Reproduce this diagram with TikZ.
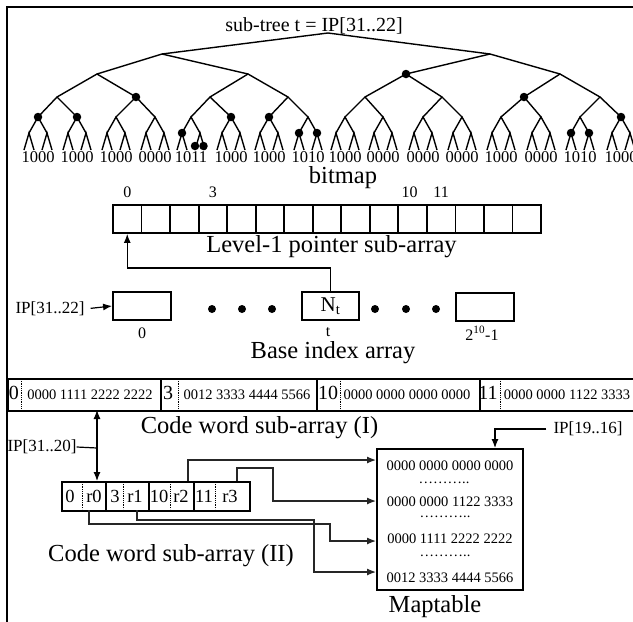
\documentclass[tikz,border=0pt]{standalone}
\usepackage{fontspec}
\setmainfont{Liberation Serif}
\usetikzlibrary{arrows.meta,calc}
\begin{document}
\begin{tikzpicture}[x=1pt,y=-1pt,
  treeline/.style={line width=1.4pt},
  knot/.style={circle,fill,inner sep=0pt,minimum size=8.5pt},
  bigdot/.style={circle,fill,inner sep=0pt,minimum size=8pt},
  frameline/.style={line width=1.8pt},
  boxline/.style={line width=1.8pt},
  title/.style={font=\fontsize{24.5}{28}\selectfont,anchor=base,inner sep=0pt},
  bits/.style={font=\fontsize{16.5}{18}\selectfont,anchor=base,inner sep=0pt},
  idx/.style={font=\fontsize{16}{18}\selectfont,anchor=base,inner sep=0pt},
  iplabel/.style={font=\fontsize{17}{19}\selectfont,inner sep=0pt},
  cell/.style={draw,line width=1.8pt,minimum width=28.53pt,minimum height=28pt,inner sep=0pt},
  slot/.style={draw,line width=1.8pt,minimum width=58pt,minimum height=28pt,inner sep=0pt},
  wordcell/.style={draw,line width=1.8pt,minimum height=32pt,anchor=north west,inner sep=0pt},
  codecell/.style={draw,line width=1.8pt,minimum height=29pt,anchor=north west,inner sep=0pt},
  arr/.style={line width=1.2pt,-{Latex[length=9pt,width=7pt]}},
  link/.style={line width=1.2pt,black!85,-{Latex[length=9pt,width=7pt]}},
  sep/.style={densely dotted,line width=0.8pt},
  bigdigit/.style={font=\fontsize{20}{22}\selectfont,anchor=base,inner sep=0pt},
  word/.style={font=\fontsize{14.5}{16}\selectfont,anchor=base,inner sep=0pt},
  codetext/.style={font=\fontsize{18.5}{20}\selectfont,anchor=base,inner sep=0pt},
  ]
\useasboundingbox (0,0) rectangle (633,622);

% outer frame (runs off the right and bottom edges)
\draw[frameline] (7,645) -- (7,7) -- (645,7);

% ---------- binary sub-tree ----------
\node[font=\fontsize{20}{22}\selectfont,anchor=base,inner sep=0pt] (treetitle) at (314,31) {sub-tree t = IP[31..22]};
\coordinate (r) at (328,33);
\coordinate (a1) at (162,54);
\coordinate (a2) at (490,54);
\foreach \x [count=\i] in {97,248,406,560} \coordinate (b\i) at (\x,74);
\foreach \x [count=\i] in {57,136,210,288,365,442,524,600} \coordinate (c\i) at (\x,97);
\draw[treeline] (a1) -- (r) -- (a2);
\draw[treeline] (b1) -- (a1) -- (b2);
\draw[treeline] (b3) -- (a2) -- (b4);
\foreach \i/\j/\k in {1/1/2,2/3/4,3/5/6,4/7/8} \draw[treeline] (c\j) -- (b\i) -- (c\k);
\foreach \x/\bt [count=\i] in {38/1000,77/1000,116/1000,155/0000,191/1011,231/1000,269/1000,308/1010,
    345/1000,383/0000,423/0000,462/0000,501/1000,541/0000,580/1010,621/1000} {
  \coordinate (d\i) at (\x,117);
  \coordinate (el\i) at (\x-9,133);
  \coordinate (er\i) at (\x+9,133);
  \coordinate (fa\i) at (\x-14,150);
  \coordinate (fb\i) at (\x-4,150);
  \coordinate (fc\i) at (\x+4,150);
  \coordinate (fd\i) at (\x+14,150);
  \draw[treeline] (el\i) -- (d\i) -- (er\i);
  \draw[treeline] (fa\i) -- (el\i) -- (fb\i);
  \draw[treeline] (fc\i) -- (er\i) -- (fd\i);
  \node[bits] (bits\i) at (\x,162) {\bt};
}
\foreach \i/\j/\k in {1/1/2,2/3/4,3/5/6,4/7/8,5/9/10,6/11/12,7/13/14,8/15/16} \draw[treeline] (d\j) -- (c\i) -- (d\k);
% marked nodes
\foreach \p in {b3,c2,c7,d1,d2,d6,d7,d16,el5,el8,er8,el15,er15} \node[knot] at (\p) {};
\node[knot] (leafmarkA) at (195,146) {};
\node[knot] (leafmarkB) at (203.5,146) {};

\node[title] (bitmaplbl) at (343,183) {bitmap};

% ---------- level-1 pointer sub-array ----------
\foreach \i in {0,...,14} \node[cell] (p\i) at ({127.27+28.533*\i},219) {};
\node[idx] (pl0) at ([yshift=7pt]p0.north) {0};
\node[idx] (pl3) at ([yshift=7pt]p3.north) {3};
\node[idx] (pl10) at ([yshift=7pt,xshift=-3pt]p10.north) {10};
\node[idx] (pl11) at ([yshift=7pt]p11.north) {11};
\node[title] (ptrlbl) at (331.5,252) {Level-1 pointer sub-array};

% ---------- base index array ----------
\node[slot] (base0) at (142,306) {};
\node[slot,minimum width=57pt,font=\fontsize{21}{23}\selectfont] (baset) at (330.5,306) {N\textsubscript{t}};
\node[slot] (baselast) at (485,307) {};
\node[idx] (bl0) at (142,338) {0};
\node[idx] (blt) at (328,336) {t};
\node[idx] (bllast) at (482,340) {2\textsuperscript{10}-1};
\foreach \x [count=\i] in {212,242,272,375,406,436} \node[bigdot] (gap\i) at (\x,309) {};
\node[iplabel] (ipa) at (50,309) {IP[31..22]};
\draw[arr,shorten <=6pt] (ipa.east) -- (base0.west);
\coordinate (bend) at (330.5,268);
\draw[arr] (baset.north) -- (bend) -| (p0.south);
\node[title] (baselbl) at (333,358) {Base index array};

% ---------- code word sub-array (I) ----------
\node[wordcell,minimum width=153pt] (w0) at (7,378) {};
\node[wordcell,minimum width=156pt] (w1) at (160,378) {};
\node[wordcell,minimum width=163pt] (w2) at (316,378) {};
\node[wordcell,minimum width=175pt] (w3) at (479,378) {};
\foreach \x in {21,178,340,500} \draw[sep] (\x,379) -- (\x,409);
\node[bigdigit] (wk0) at (14,399) {0};
\node[bigdigit] (wk1) at (168,399) {3};
\node[bigdigit] (wk2) at (328,399) {10};
\node[bigdigit] (wk3) at (488,399) {11};
\node[word] (wv0) at (90,399) {0000 1111 2222 2222};
\node[word] (wv1) at (247,399) {0012 3333 4444 5566};
\node[word] (wv2) at (407,399) {0000 0000 0000 0000};
\node[word] (wv3) at (567,399) {0000 0000 1122 3333};
\node[title] (cw1lbl) at (259.5,433) {Code word sub-array (I)};

% ---------- code word sub-array (II) ----------
\node[codecell,minimum width=44pt] (v0) at (61,481) {};
\node[codecell,minimum width=43pt] (v1) at (105,481) {};
\node[codecell,minimum width=45pt] (v2) at (148,481) {};
\node[codecell,minimum width=56pt] (v3) at (193,481) {};
\foreach \x in {82,123,170,215} \draw[sep] (\x,482) -- (\x,509);
\foreach \x/\t [count=\i] in {70/0,94/r0,115/3,135/r1,159/10,181/r2,204/11,230/r3}
  \node[codetext] (cv\i) at (\x,502) {\t};
\node[title] (cw2lbl) at (171,561) {Code word sub-array (II)};

% index into sub-array (II)
\node[iplabel] (ipb) at (42,447) {IP[31..20]};
\coordinate (ibot) at (97,410);
\coordinate (iitop) at (97,481);
\coordinate (ijoin) at (97,448);
\draw[line width=1.2pt] (ipb.east) -- (ijoin);
\draw[line width=1.2pt,{Latex[length=9pt,width=7pt]}-{Latex[length=9pt,width=7pt]}] (ibot) -- (iitop);

% ---------- maptable ----------
\node[draw,line width=1.8pt,minimum width=146pt,minimum height=141pt,anchor=north west,inner sep=0pt] (map) at (376,448) {};
\node[word] (m1) at (450,470) {0000 0000 0000 0000};
\node[word] (m2) at (450,506) {0000 0000 1122 3333};
\node[word] (m3) at (450,543) {0000 1111 2222 2222};
\node[word] (m4) at (450,582) {0012 3333 4444 5566};
\node[word] (md1) at (444,483) {\smash{………..}};
\node[word] (md2) at (445,517) {\smash{………..}};
\node[word] (md3) at (445,556) {\smash{………..}};
\node[title] (maplbl) at (435,612) {Maptable};

\node[iplabel] (ipc) at (588,429) {IP[19..16]};
\coordinate (ipcturn) at (495,429);
\coordinate (mapin) at (495,448);
\draw[arr,shorten <=7pt] (ipc.west) -- (ipcturn) -- (mapin);

% connectors from sub-array (II) into the maptable
\coordinate (r0port) at (89,510);
\coordinate (r1port) at (137,510);
\coordinate (r2port) at (188,481);
\coordinate (r3port) at (237,481);
\coordinate (in1) at (376,460);
\coordinate (in2) at (376,501);
\coordinate (in3) at (376,541);
\coordinate (in4) at (376,572);
\coordinate (kr3) at (273,468);
\coordinate (kr0) at (330,524);
\coordinate (kr1) at (314,520);
\draw[link] (r2port) |- (in1);
\draw[link] (r3port) |- (kr3) |- (in2);
\draw[link] (r0port) |- (kr0) |- (in3);
\draw[link] (r1port) |- (kr1) |- (in4);
\end{tikzpicture}
\end{document}
